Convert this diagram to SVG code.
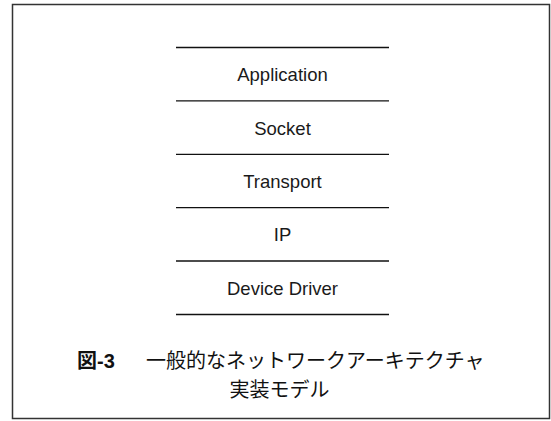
<svg xmlns="http://www.w3.org/2000/svg" width="551" height="421" viewBox="0 0 551 421">
  <style>
    .frame { fill: #ffffff; stroke: #333333; stroke-width: 1.5; }
    .sep { stroke: #111111; stroke-width: 1.3; fill: none; }
    .lbl { font-family: "Liberation Sans", Arial, sans-serif; font-size: 18.5px; fill: #1a1a1a; text-anchor: middle; }
    .cap { font-family: "Liberation Sans", "Noto Sans CJK JP", sans-serif; font-size: 20px; fill: #111111; }
  </style>
  <rect class="frame" x="12.5" y="4.5" width="537" height="414"/>
  <g id="connectors">
    <line class="sep" x1="176" y1="47.5" x2="389" y2="47.5"/>
    <line class="sep" x1="176" y1="100.8" x2="389" y2="100.8"/>
    <line class="sep" x1="176" y1="154.3" x2="389" y2="154.3"/>
    <line class="sep" x1="176" y1="207.7" x2="389" y2="207.7"/>
    <line class="sep" x1="176" y1="261" x2="389" y2="261"/>
    <line class="sep" x1="176" y1="314.5" x2="389" y2="314.5"/>
  </g>
  <g id="application"><text class="lbl" x="282.5" y="81">Application</text></g>
  <g id="socket"><text class="lbl" x="282.5" y="134.5">Socket</text></g>
  <g id="transport"><text class="lbl" x="282.5" y="187.5">Transport</text></g>
  <g id="ip"><text class="lbl" x="282.5" y="241">IP</text></g>
  <g id="device-driver"><text class="lbl" x="282.5" y="294.5">Device Driver</text></g>
  <g id="caption">
    <text class="cap" y="368"><tspan x="77" font-weight="bold">図-3</tspan><tspan x="146">一般的なネットワークアーキテクチャ</tspan></text>
    <text class="cap" x="279.5" y="396.5" text-anchor="middle">実装モデル</text>
  </g>
</svg>
